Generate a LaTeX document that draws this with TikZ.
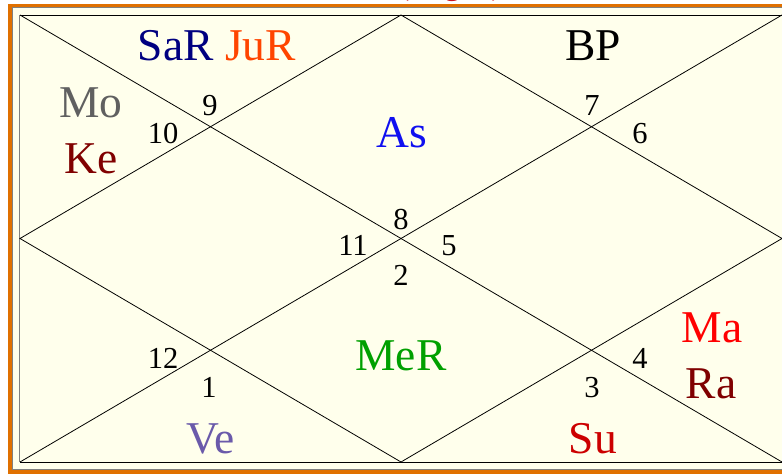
\documentclass[tikz,border=0pt]{standalone}
\usepackage{fontspec}
\setmainfont{Liberation Serif}
\begin{document}
\begin{tikzpicture}[x=1pt,y=-1pt,
  planet/.style={anchor=base,inner sep=0pt,font=\fontsize{45.5}{48}\selectfont},
  house/.style={anchor=base,inner sep=0pt,font=\fontsize{30.5}{34}\selectfont,text=black},
  chartline/.style={line width=0.8pt,draw=black}]
\definecolor{cream}{HTML}{FFFFEC}
\definecolor{frameorange}{HTML}{E07000}
\definecolor{cSa}{HTML}{000080}
\definecolor{cJu}{HTML}{FF4500}
\definecolor{cMo}{HTML}{606060}
\definecolor{cKe}{HTML}{800000}
\definecolor{cAs}{HTML}{1010F0}
\definecolor{cMe}{HTML}{00A000}
\definecolor{cMa}{HTML}{FF0000}
\definecolor{cRa}{HTML}{800000}
\definecolor{cVe}{HTML}{6A5AAA}
\definecolor{cSu}{HTML}{CC0000}
\definecolor{cTitle}{HTML}{CC1020}
\useasboundingbox (0,0) rectangle (782,474);
\fill[white] (0,0) rectangle (782,474);
% title (mostly cut off)
\node[anchor=base,inner sep=0pt,text=cTitle,font=\fontsize{33}{36}\selectfont] (title) at (450.5,-5.5) {(Lagna)};
% outer frame
\fill[cream] (10,5.5) rectangle (800,472);
\draw[frameorange,line width=3.6pt] (10,5.5) rectangle (800,472);
\draw[gray,line width=0.6pt] (12.3,7.5) rectangle (800,469.5);
% chart
\coordinate (tl) at (20,15);
\coordinate (tr) at (782,15);
\coordinate (bl) at (20,462);
\coordinate (br) at (782,462);
\coordinate (tm) at (401,15);
\coordinate (bm) at (401,462);
\coordinate (lm) at (20,238.5);
\coordinate (rm) at (782,238.5);
\draw[chartline] (tl) -- (tr);
\draw[chartline] (bl) -- (br);
\draw[gray,line width=0.8pt] (19.5,15) -- (19.5,462);
\draw[chartline] (tl) -- (br);
\draw[chartline] (bl) -- (tr);
\draw[chartline] (tm) -- (rm) -- (bm) -- (lm) -- cycle;
% planets
\node[planet] (sajur) at (217,60) {\textcolor{cSa}{SaR} \textcolor{cJu}{JuR}};
\node[planet] (bp) at (593,60) {BP};
\node[planet,text=cMo] (mo) at (91,117) {Mo};
\node[planet,text=cKe] (ke) at (91,173) {Ke};
\node[planet,text=cAs] (as) at (402,147) {As};
\node[planet,text=cMe] (mer) at (401,370) {MeR};
\node[planet,text=cMa] (ma) at (712,342) {Ma};
\node[planet,text=cRa] (ra) at (711,398) {Ra};
\node[planet,text=cVe] (ve) at (211,453) {Ve};
\node[planet,text=cSu] (su) at (593,453) {Su};
% house numbers
\node[house] (h9) at (210,115) {9};
\node[house] (h10) at (163,143) {10};
\node[house] (h7) at (592,115) {7};
\node[house] (h6) at (640,143) {6};
\node[house] (h8) at (401,229) {8};
\node[house] (h11) at (353,255) {11};
\node[house] (h5) at (449,255) {5};
\node[house] (h2) at (401,285) {2};
\node[house] (h12) at (163,368) {12};
\node[house] (h1) at (209,397) {1};
\node[house] (h3) at (592,397) {3};
\node[house] (h4) at (640,368) {4};
\end{tikzpicture}
\end{document}
